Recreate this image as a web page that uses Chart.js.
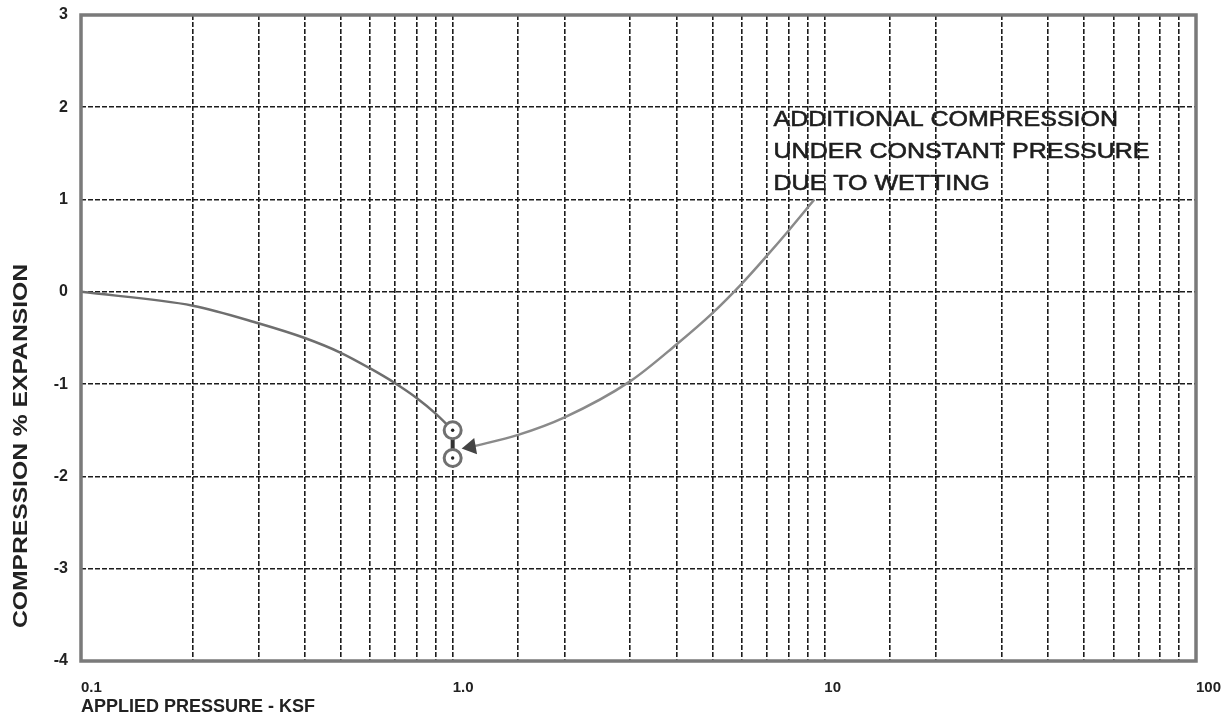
<!DOCTYPE html>
<html>
<head>
<meta charset="utf-8">
<script src="https://cdn.jsdelivr.net/npm/chart.js@4.4.1/dist/chart.umd.min.js"></script>
<style>
	html, body { margin: 0; padding: 0; background: #fff; }
	#wrap { width: 1226px; height: 723px; }
</style>
</head>
<body>
<div id="wrap"><canvas id="consolChart"></canvas></div>
<script>
// loading curve, before wetting (ksf, %)
const loadPressure = [0.1, 0.2, 0.3, 0.4, 0.5, 0.6, 0.7, 0.8, 0.9, 1.0];
const loadStrain = [0, -0.15, -0.34, -0.5, -0.66, -0.83, -0.99, -1.15, -1.32, -1.5];

// wetting at constant pressure
const wetPressure = [1.0, 1.0];
const wetStrain = [-1.5, -1.8];

// curve after wetting
const reloadPressure = [1.12, 1.5, 2, 3, 4, 5, 6, 7, 8, 9.4];
const reloadStrain = [-1.68, -1.55, -1.36, -0.97, -0.57, -0.23, 0.09, 0.39, 0.66, 1.0];

const xLabelValues = [0.1, 1, 10, 100];
const xLabelText = ["0.1", "1.0", "10", "100"];
const noteLines = ["ADDITIONAL COMPRESSION", "UNDER CONSTANT PRESSURE", "DUE TO WETTING"];

const FONT = "'Liberation Sans', Arial, sans-serif";

function toPoints(xs, ys) {
	return xs.map((x, i) => ({ x: x, y: ys[i] }));
}

// frame, note text and rotated y title
const extras = {
	id: "extras",
	afterDraw(chart) {
		const ctx = chart.ctx;
		const area = chart.chartArea;
		const xs = chart.scales.x;
		const ys = chart.scales.y;
		ctx.save();
		ctx.strokeStyle = "#7a7a7a";
		ctx.lineWidth = 3.5;
		ctx.strokeRect(area.left, area.top, area.right - area.left, area.bottom - area.top);

		// note
		ctx.fillStyle = "#1e1e1e";
		ctx.strokeStyle = "#1e1e1e";
		ctx.lineWidth = 0.6;
		ctx.font = "22px " + FONT;
		ctx.textBaseline = "middle";
		ctx.textAlign = "left";
		const widest = Math.max(...noteLines.map((t) => ctx.measureText(t).width));
		const sx = 376 / widest;
		const nx = xs.getPixelForValue(7.3);
		const ny = ys.getPixelForValue(1.86);
		noteLines.forEach((t, i) => {
			ctx.save();
			ctx.translate(nx, ny + i * 32);
			ctx.scale(sx, 1);
			ctx.fillText(t, 0, 0);
			ctx.strokeText(t, 0, 0);
			ctx.restore();
		});

		// y title
		ctx.font = "bold 20px " + FONT;
		ctx.fillStyle = "#222";
		ctx.textAlign = "center";
		const title = "COMPRESSION % EXPANSION";
		const k = 364 / ctx.measureText(title).width;
		ctx.translate(21, 446);
		ctx.rotate(-Math.PI / 2);
		ctx.scale(k, 1);
		ctx.fillText(title, 0, 0);
		ctx.restore();
	},
};

const ctxConsol = document.getElementById("consolChart").getContext("2d");
const consolChart = new Chart(ctxConsol, {
	type: "line",
	data: {
		datasets: [
			{
				label: "centre dots",
				data: toPoints(wetPressure, wetStrain),
				showLine: false,
				pointRadius: 1.7,
				pointBorderWidth: 0,
				pointBackgroundColor: "#222",
			},
			{
				label: "wetting",
				data: toPoints(wetPressure, wetStrain),
				borderColor: "#333",
				borderWidth: 4,
				pointRadius: 8.5,
				pointBorderWidth: 3,
				pointBorderColor: "#707070",
				pointBackgroundColor: "#fff",
			},
			{
				label: "after wetting",
				data: toPoints(reloadPressure, reloadStrain),
				borderColor: "#8a8a8a",
				borderWidth: 2.5,
				cubicInterpolationMode: "monotone",
				pointStyle: "triangle",
				pointRotation: -100,
				pointRadius: reloadPressure.map((p, i) => (i === 0 ? 7 : 0)),
				pointBackgroundColor: "#444",
				pointBorderColor: "#444",
			},
			{
				label: "before wetting",
				data: toPoints(loadPressure, loadStrain),
				borderColor: "#6e6e6e",
				borderWidth: 2.5,
				cubicInterpolationMode: "monotone",
				pointRadius: 0,
			},
		],
	},
	options: {
		responsive: true,
		maintainAspectRatio: false,
		animation: false,
		layout: { padding: { top: 15, right: 30, bottom: 2, left: 0 } },
		plugins: {
			legend: { display: false },
			tooltip: { enabled: false },
		},
		scales: {
			x: {
				type: "logarithmic",
				min: 0.1,
				max: 100,
				grid: { color: "#1c1c1c", lineWidth: 1.6, drawTicks: false },
				border: { display: false, dash: [5, 2] },
				ticks: {
					autoSkip: false,
					maxRotation: 0,
					align: "start",
					padding: 18,
					color: "#222",
					font: { family: FONT, size: 15, weight: "bold" },
					callback: function (value) {
						const i = xLabelValues.findIndex((v) => Math.abs(v - value) < 1e-9);
						return i >= 0 ? xLabelText[i] : "";
					},
				},
				title: {
					display: true,
					text: "APPLIED PRESSURE - KSF",
					align: "start",
					color: "#222",
					font: { family: FONT, size: 18, weight: "bold" },
					padding: { top: 0, bottom: 3 },
				},
				afterFit: function (scale) {
					scale.height = 60;
					scale.paddingLeft = 0;
					scale.paddingRight = 0;
				},
			},
			y: {
				min: -4,
				max: 3,
				grid: { color: "#1c1c1c", lineWidth: 1.6, drawTicks: false },
				border: { display: false, dash: [5, 2] },
				ticks: {
					stepSize: 1,
					padding: 13,
					color: "#222",
					font: { family: FONT, size: 16, weight: "bold" },
				},
				afterFit: function (scale) {
					scale.width = 81;
					scale.paddingTop = 0;
					scale.paddingBottom = 0;
				},
			},
		},
	},
	plugins: [extras],
});
</script>
</body>
</html>
